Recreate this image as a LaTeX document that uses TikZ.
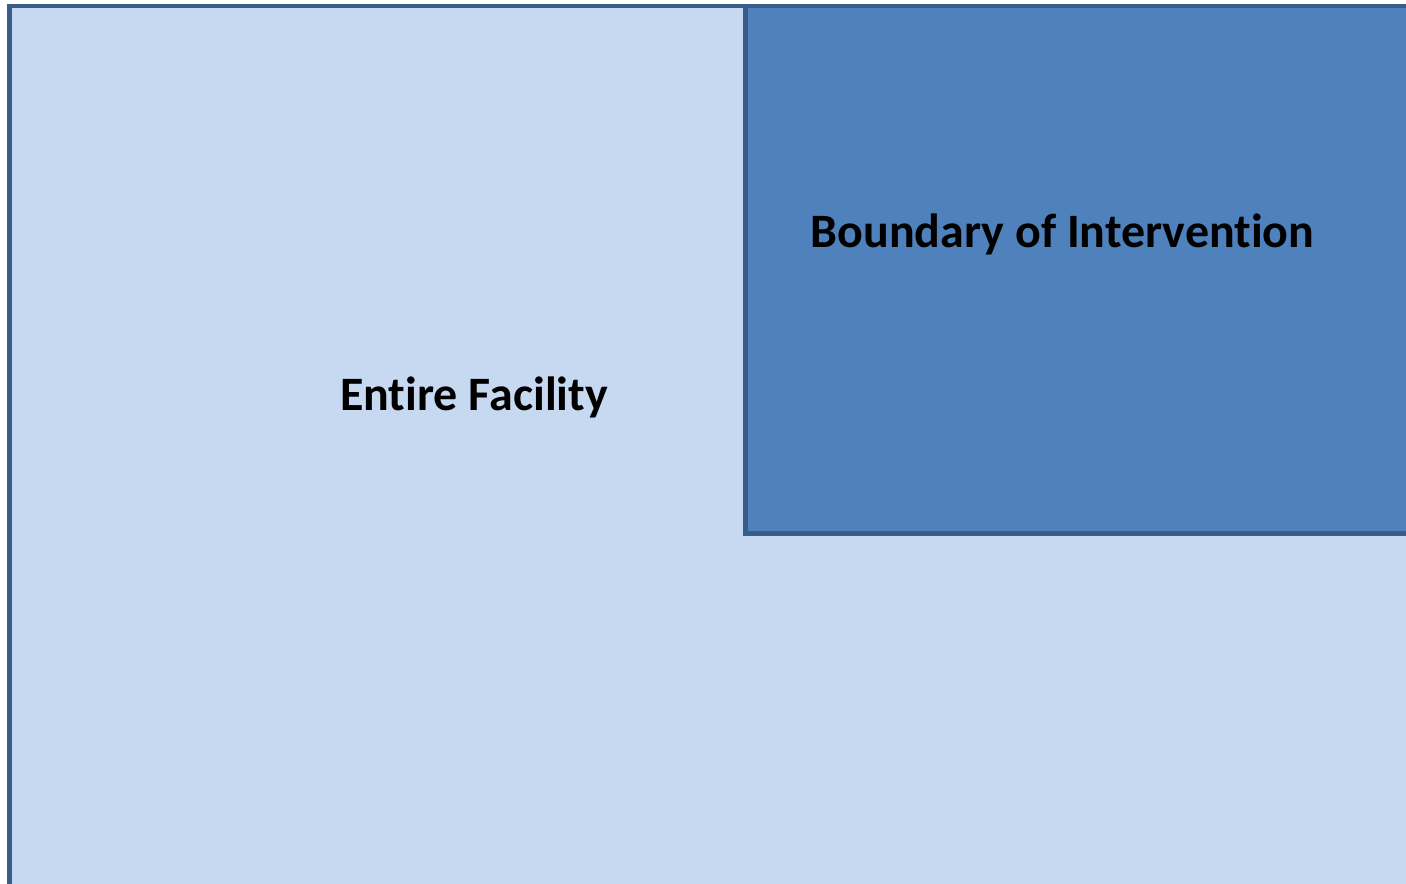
\documentclass[tikz,border=0pt]{standalone}
\usepackage{fontspec}
\setmainfont[Ligatures=NoCommon]{Carlito}
\usepackage{tikz}
\usetikzlibrary{positioning}
\usepackage{xcolor}
\definecolor{fedge}{HTML}{385D8A}
\definecolor{flight}{HTML}{C6D9F1}
\definecolor{fmid}{HTML}{4F81BD}
\tikzset{
  zone/.style  = {draw=fedge, line width=1.4pt},
  label/.style = {font=\fontsize{13.65}{16}\selectfont\bfseries, text=black},
}

\begin{document}
\begin{tikzpicture}[x=1cm,y=1cm]
\useasboundingbox (0,0) rectangle (14.06,8.84);
% outer zone, runs off the right and bottom
\draw[zone,fill=flight] (0.095,-0.03) rectangle (14.3,8.78);
% inner zone in the top right corner
\draw[zone,fill=fmid] (7.455,3.505) rectangle (14.3,8.78);
\node[label] (facility) at (4.74,4.87) {Entire Facility};
\node[label] (boundary) at (10.625,6.50) {Boundary of Intervention};
\end{tikzpicture}
\end{document}
